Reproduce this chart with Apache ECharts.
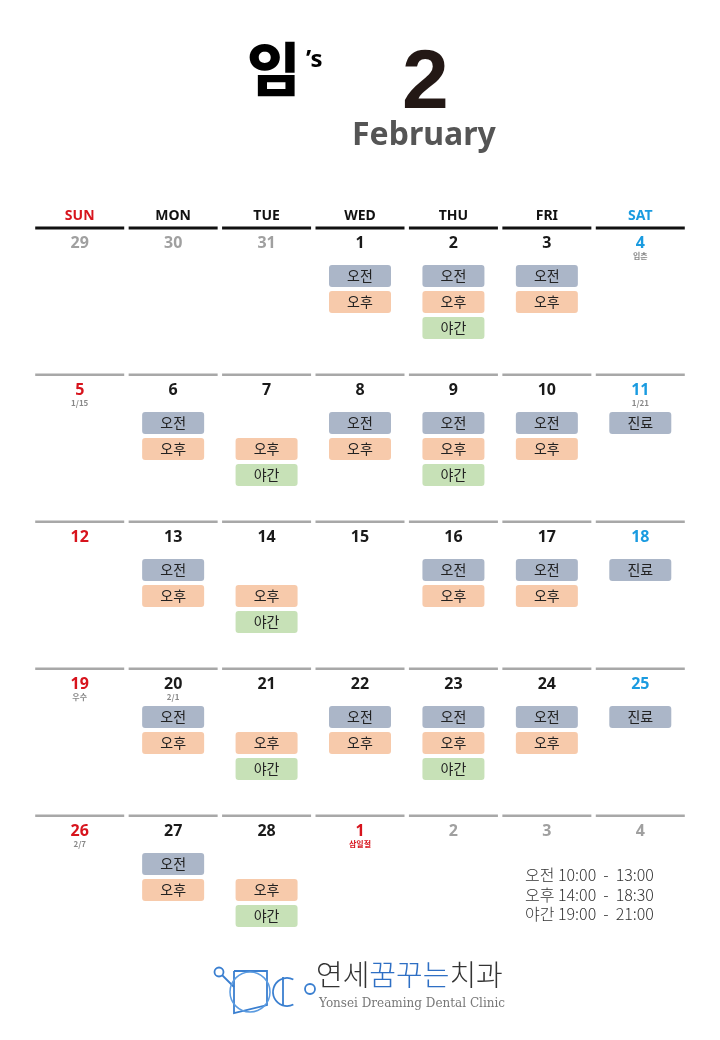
<!DOCTYPE html>
<html><head><meta charset="utf-8">
<script src="https://cdn.jsdelivr.net/npm/echarts@6/dist/echarts.min.js"></script>
<style>html,body{margin:0;padding:0;background:#fff}#c{width:720px;height:1040px}</style>
</head><body><div id="c"></div>
<script>
const weekdays = ['SUN','MON','TUE','WED','THU','FRI','SAT'];
const dayNumbers = [
  [29,30,31,1,2,3,4],
  [5,6,7,8,9,10,11],
  [12,13,14,15,16,17,18],
  [19,20,21,22,23,24,25],
  [26,27,28,1,2,3,4]
];
// o = other month, r = red, b = blue, n = normal
const dayKinds = [
  ['o','o','o','n','n','n','b'],
  ['r','n','n','n','n','n','b'],
  ['r','n','n','n','n','n','b'],
  ['r','n','n','n','n','n','b'],
  ['r','n','n','r','o','o','o']
];
const subLabels = [
  ['','','','','','','입춘'],
  ['1/15','','','','','','1/21'],
  ['','','','','','',''],
  ['우수','2/1','','','','',''],
  ['2/7','','','삼일절','','','']
];
// A = 오전, P = 오후, N = 야간, C = 진료
const sessions = [
  ['','','','AP','APN','AP',''],
  ['','AP','PN','AP','APN','AP','C'],
  ['','AP','PN','','AP','AP','C'],
  ['','AP','PN','AP','APN','AP','C'],
  ['','AP','PN','','','','']
];
const hoursText = ['오전 10:00  -  13:00','오후 14:00  -  18:30','야간 19:00  -  21:00'];

const badge = {A:['오전','#abb6c8',0],P:['오후','#f7caab',1],N:['야간','#c7e1b7',2],C:['진료','#abb6c8',0]};
const kindColor = {o:'#a0a0a0',r:'#d7141d',b:'#1a9be0',n:'#1a1a1a'};
const cells = [];
dayNumbers.forEach((w,wi)=>w.forEach((d,di)=>cells.push([di,wi,d,dayKinds[wi][di],subLabels[wi][di],sessions[wi][di]])));

function renderItem(params, api){
  const di=api.value(0), wi=api.value(1);
  const c = cells[params.dataIndex];
  const p = api.coord([di,wi]);
  const x=p[0], y=p[1];
  const ch=[];
  ch.push({type:'rect',shape:{x:x-44.5,y:y-1.5,width:89,height:wi===0?3:2.5},style:{fill:wi===0?'#111':'#a8a8a8'}});
  ch.push({type:'text',x:x,y:y+15,style:{text:String(c[2]),fill:kindColor[c[3]],font:'bold 16px "Noto Sans", sans-serif',align:'center',verticalAlign:'middle'}});
  if(c[4]){
    ch.push({type:'text',x:x,y:y+28,style:{text:c[4],fill:c[3]==='r'&&c[4]==='삼일절'?'#d7141d':'#888',font:'bold 8px "Noto Sans CJK KR", sans-serif',align:'center',verticalAlign:'middle'}});
  }
  for(const k of c[5]){
    const b=badge[k]; const by=y+37+b[2]*26;
    ch.push({type:'rect',shape:{x:x-31,y:by,width:62,height:22,r:3},style:{fill:b[1]}});
    ch.push({type:'text',x:x,y:by+11,style:{text:b[0],fill:'#222',font:'14px "Noto Sans CJK KR", sans-serif',align:'center',verticalAlign:'middle'}});
  }
  return {type:'group',children:ch};
}

const chart = echarts.init(document.getElementById('c'));
chart.setOption({
  animation:false,
  grid:{left:33,right:33,top:228,height:735},
  xAxis:{type:'category',data:weekdays,position:'top',axisLine:{show:false},axisTick:{show:false},
    axisLabel:{margin:5,fontSize:14,fontWeight:'bold',fontFamily:'"Noto Sans", sans-serif',
      color:(v)=>v==='SUN'?'#d7141d':v==='SAT'?'#1a9be0':'#111'}},
  yAxis:{type:'value',min:0,max:5,inverse:true,show:false,splitLine:{show:false}},
  series:[{type:'custom',renderItem,data:cells.map(c=>[c[0],c[1]]),clip:false}],
  graphic:[
    {type:'text',left:247,top:40,style:{text:'임',font:'900 58px "Noto Sans CJK KR", sans-serif',fill:'#000'}},
    {type:'text',left:306,top:48,style:{text:'’s',font:'bold 24px "Noto Sans", sans-serif',fill:'#000'}},
    {type:'text',left:402,top:43,style:{text:'2',font:'bold 84px "Liberation Sans", sans-serif',fill:'#231815'}},
    {type:'text',left:352,top:120,style:{text:'February',font:'bold 32px "Noto Sans", sans-serif',fill:'#555'}},
    ...hoursText.map((t,i)=>({type:'text',left:525,top:867+i*19.5,style:{text:t,font:'300 16px "Noto Sans CJK KR", sans-serif',fill:'#333'}})),
    {type:'group',left:212,top:965,children:[
      {type:'circle',shape:{cx:7,cy:7,r:4.5},style:{fill:'none',stroke:'#3a7fd0',lineWidth:1.8}},
      {type:'line',shape:{x1:10,y1:10,x2:22,y2:22},style:{stroke:'#3a7fd0',lineWidth:1.8}},
      {type:'polyline',shape:{points:[[22,6],[22,48],[55,40],[55,6],[22,6]]},style:{fill:'none',stroke:'#3a7fd0',lineWidth:1.8}},
      {type:'arc',shape:{cx:38,cy:27,r:20,startAngle:0,endAngle:Math.PI*2},style:{fill:'none',stroke:'#5b9be0',lineWidth:1.5}},
      {type:'arc',shape:{cx:75,cy:27,r:14,startAngle:Math.PI*0.35,endAngle:Math.PI*1.65},style:{fill:'none',stroke:'#3a7fd0',lineWidth:1.8}},
      {type:'circle',shape:{cx:98,cy:24,r:5},style:{fill:'none',stroke:'#3a7fd0',lineWidth:1.8}},
      {type:'line',shape:{x1:71,y1:12,x2:71,y2:40},style:{stroke:'#3a7fd0',lineWidth:1.8}}
    ]},
    {type:'text',left:316,top:960,style:{text:'{a|연세}{b|꿈꾸는}{a|치과}',rich:{a:{font:'300 29px "Noto Sans CJK KR", sans-serif',fill:'#333'},b:{font:'300 29px "Noto Sans CJK KR", sans-serif',fill:'#2e6fc4'}}}},
    {type:'text',left:319,top:998,style:{text:'Yonsei Dreaming Dental Clinic',font:'12px "DejaVu Serif", serif',fill:'#777'}}
  ]
});
</script></body></html>
